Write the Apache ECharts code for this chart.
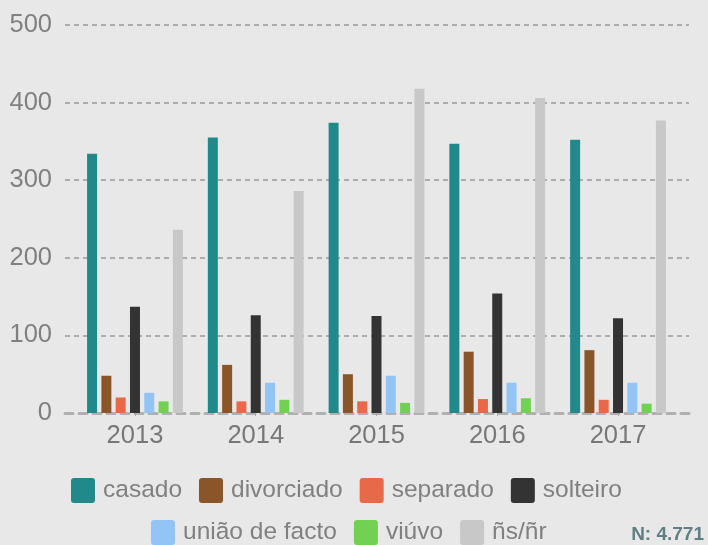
<!DOCTYPE html>
<html>
<head>
<meta charset="utf-8">
<script src="https://cdn.jsdelivr.net/npm/echarts@6/dist/echarts.min.js"></script>
<style>
html,body{margin:0;padding:0;background:#e8e8e8;}
#chart{width:708px;height:545px;}
</style>
</head>
<body>
<div id="chart"></div>
<script>
const years = ['2013', '2014', '2015', '2016', '2017'];
const seriesNames = ['casado', 'divorciado', 'separado', 'solteiro', 'união de facto', 'viúvo', 'ñs/ñr'];
const casado = [334, 355, 374, 347, 352];
const divorciado = [48, 62, 50, 79, 81];
const separado = [20, 15, 15, 18, 17];
const solteiro = [137, 126, 125, 154, 122];
const uniaoDeFacto = [26, 39, 48, 39, 39];
const viuvo = [15, 17, 13, 19, 12];
const nsnr = [236, 286, 418, 406, 377];
const yTicks = [0, 100, 200, 300, 400, 500];
const totalLabel = 'N: 4.771';

const values = [casado, divorciado, separado, solteiro, uniaoDeFacto, viuvo, nsnr];
const colors = ['#21898a', '#8a5529', '#e8694a', '#333333', '#92c5f5', '#72d153', '#c8c8c8'];
const FONT = '"Liberation Sans", Arial, Helvetica, sans-serif';

const chart = echarts.init(document.getElementById('chart'), null, {renderer: 'canvas'});

const series = seriesNames.map((name, i) => ({
  name: name,
  type: 'bar',
  xAxisIndex: 0,
  yAxisIndex: 0,
  barWidth: 10,
  barGap: '43%',
  itemStyle: {color: colors[i]},
  data: values[i]
}));

const legendBase = {
  orient: 'horizontal',
  padding: 0,
  itemWidth: 24,
  itemHeight: 25,
  itemGap: 17,
  icon: 'path://M3,0 L21,0 Q24,0 24,3 L24,22 Q24,25 21,25 L3,25 Q0,25 0,22 L0,3 Q0,0 3,0 Z',
  textStyle: {fontFamily: FONT, fontSize: 24.5, color: '#808080', padding: [0, 0, 0, 3]},
  selectedMode: false
};

chart.setOption({
  backgroundColor: '#e8e8e8',
  animation: false,
  color: colors,
  grid: [
    {left: 74.6, right: 29.6, top: 25, bottom: 132, containLabel: false},
    {left: 65, right: 19, top: 25, bottom: 132, containLabel: false}
  ],
  xAxis: [
    {
      type: 'category',
      gridIndex: 0,
      data: years,
      axisLine: {show: false},
      axisTick: {show: true, alignWithLabel: true, length: 3, lineStyle: {color: '#aaaaaa'}},
      axisLabel: {fontFamily: FONT, fontSize: 25.5, color: '#777777', margin: 10},
      splitLine: {show: false}
    },
    {
      type: 'category',
      gridIndex: 1,
      data: [''],
      axisLine: {show: true, lineStyle: {color: '#b0b0b0', width: 3, type: [8, 6]}},
      axisTick: {show: false},
      axisLabel: {show: false},
      splitLine: {show: false}
    }
  ],
  yAxis: [
    {
      type: 'value',
      gridIndex: 0,
      min: yTicks[0],
      max: yTicks[yTicks.length - 1],
      interval: 100,
      show: false,
      splitLine: {show: false}
    },
    {
      type: 'value',
      gridIndex: 1,
      min: yTicks[0],
      max: yTicks[yTicks.length - 1],
      interval: 100,
      axisLine: {show: false},
      axisTick: {show: false},
      axisLabel: {fontFamily: FONT, fontSize: 25.5, color: '#808080', margin: 13,
        formatter: v => yTicks.includes(v) ? String(v) : ''},
      splitLine: {show: true, lineStyle: {color: '#999999', width: 1.5, type: [5, 4]},
        showMinLine: false}
    }
  ],
  legend: [
    Object.assign({}, legendBase, {left: 71, top: 478, data: seriesNames.slice(0, 4)}),
    Object.assign({}, legendBase, {left: 151, top: 520, data: seriesNames.slice(4)})
  ],
  graphic: [{
    type: 'text',
    right: 4,
    top: 525,
    style: {text: totalLabel, fontFamily: FONT, fontSize: 19, fontWeight: 'bold', fill: '#5f7f85'}
  }],
  series: series
});
</script>
</body>
</html>
